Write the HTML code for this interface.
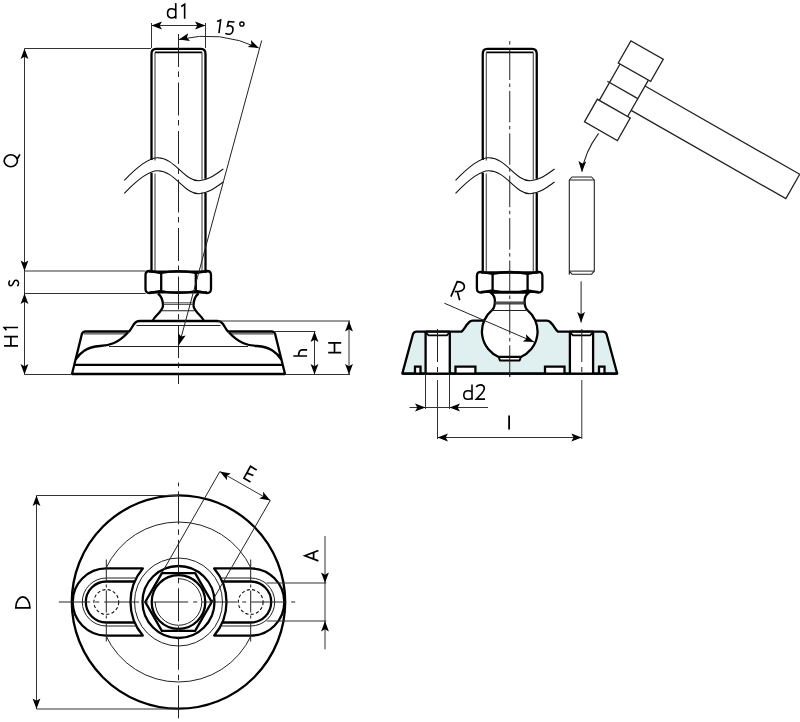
<!DOCTYPE html>
<html><head><meta charset="utf-8"><style>
html,body{margin:0;padding:0;background:#fff;}
svg{display:block;font-family:"Liberation Sans",sans-serif;will-change:transform;}
</style></head><body>
<svg width="800" height="722" viewBox="0 0 800 722">
<rect width="800" height="722" fill="#fff"/>
<path d="M151.5,160 V54 Q151.5,48.8 156,48.8 H201 Q205.5,48.8 205.5,54 V178.8" stroke="#000" stroke-width="2.3" fill="none" stroke-linejoin="round" />
<line x1="155" y1="52.4" x2="202" y2="52.4" stroke="#000" stroke-width="1.6" />
<line x1="155" y1="52.4" x2="155" y2="160.5" stroke="#333" stroke-width="1.0" />
<line x1="202" y1="52.4" x2="202" y2="179.5" stroke="#333" stroke-width="1.0" />
<line x1="151.5" y1="172.8" x2="151.5" y2="271" stroke="#000" stroke-width="2.3" />
<line x1="205.5" y1="193" x2="205.5" y2="271" stroke="#000" stroke-width="2.3" />
<line x1="155" y1="173.5" x2="155" y2="271" stroke="#333" stroke-width="1.0" />
<line x1="202" y1="192.5" x2="202" y2="271" stroke="#333" stroke-width="1.0" />
<path d="M124.3,180.3 C138,166 149,157.5 157.8,157.7 C175,158 184,181 199,180.7 C208,180.5 216,174 223.3,169" stroke="#111" stroke-width="1.1" fill="none" stroke-linejoin="round" />
<path d="M124.3,193.3 C138,179 149,170.5 157.8,170.7 C175,171 184,194 199,193.7 C208,193.5 216,187 223.3,182" stroke="#111" stroke-width="1.1" fill="none" stroke-linejoin="round" />
<path d="M145.5,275 Q145.5,271 149.5,271 L161.2,273 Q178.5,269.2 195.8,273 L207,271 Q211,271 211,275 V289 Q211,293 207,293 L195.8,291 Q178.5,294.8 161.2,291 L149.5,293 Q145.5,293 145.5,289 Z" stroke="#000" stroke-width="2.3" fill="none" stroke-linejoin="round" />
<line x1="161.2" y1="273" x2="161.2" y2="291" stroke="#000" stroke-width="2.3" />
<line x1="195.8" y1="273" x2="195.8" y2="291" stroke="#000" stroke-width="2.3" />
<line x1="149.5" y1="271.6" x2="207" y2="271.6" stroke="#000" stroke-width="2.3" />
<line x1="149.5" y1="292.4" x2="207" y2="292.4" stroke="#000" stroke-width="2.3" />
<path d="M158,293.5 C161,296 163,300 163,305.5 C163,309 160,312 157,315 C155,317 153.5,319 152.5,321" stroke="#000" stroke-width="2.3" fill="none" stroke-linejoin="round" />
<path d="M198.5,293.5 C195.5,296 193.5,300 193.5,305.5 C193.5,309 196.5,312 199.5,315 C201.5,317 203,319 204,321" stroke="#000" stroke-width="2.3" fill="none" stroke-linejoin="round" />
<line x1="163.8" y1="302.8" x2="192.7" y2="302.8" stroke="#333" stroke-width="0.9" />
<line x1="163.8" y1="304.4" x2="192.7" y2="304.4" stroke="#333" stroke-width="0.9" />
<line x1="162" y1="310.75" x2="194.4" y2="310.75" stroke="#222" stroke-width="1.0" />
<path d="M72,374 L82,333.5 Q83,331.5 85,331.5 H129 C131,330 133,324.5 135,323 C136,321.5 138,321 140,321 H217 C219,321 221,321.5 222,323 C224,324.5 226,330 228,331.5 H272 Q274,331.5 275,333.5 L285,374 Z" stroke="#000" stroke-width="2.3" fill="none" stroke-linejoin="round" />
<line x1="74" y1="364.9" x2="283" y2="364.9" stroke="#000" stroke-width="2.3" />
<line x1="83.5" y1="333.9" x2="127" y2="333.9" stroke="#222" stroke-width="1.0" />
<line x1="273.5" y1="333.9" x2="230" y2="333.9" stroke="#222" stroke-width="1.0" />
<line x1="136.5" y1="325.5" x2="220.5" y2="325.5" stroke="#222" stroke-width="1.0" />
<path d="M75.6,359.5 C80,353 86,347 100,346 C110,345.5 118,343 128,332.5" stroke="#000" stroke-width="2.3" fill="none" stroke-linejoin="round" />
<path d="M281.4,359.5 C277,353 271,347 257,346 C247,345.5 239,343 229,332.5" stroke="#000" stroke-width="2.3" fill="none" stroke-linejoin="round" />
<line x1="109" y1="346.5" x2="248" y2="346.5" stroke="#222" stroke-width="1.0" />
<line x1="178.5" y1="34" x2="178.5" y2="384" stroke="#222" stroke-width="1.0" stroke-dasharray="33 4.5 5.5 5.5"/>
<line x1="24.5" y1="48.5" x2="24.5" y2="374.5" stroke="#333" stroke-width="1.0" />
<line x1="24.5" y1="48.5" x2="151" y2="48.5" stroke="#333" stroke-width="1.0" />
<line x1="24.5" y1="271" x2="145.5" y2="271" stroke="#333" stroke-width="1.0" />
<line x1="24.5" y1="293.5" x2="145.5" y2="293.5" stroke="#333" stroke-width="1.0" />
<line x1="24.5" y1="374.5" x2="72" y2="374.5" stroke="#333" stroke-width="1.0" />
<path d="M24.5,48.5 L28.4,59 L24.5,56.69 L20.6,59 Z" fill="#000" stroke="none"/>
<path d="M24.5,271 L20.6,260.5 L24.5,262.81 L28.4,260.5 Z" fill="#000" stroke="none"/>
<path d="M24.5,293.5 L28.4,304 L24.5,301.69 L20.6,304 Z" fill="#000" stroke="none"/>
<path d="M24.5,374.5 L20.6,364 L24.5,366.31 L28.4,364 Z" fill="#000" stroke="none"/>
<line x1="218" y1="321" x2="350" y2="321" stroke="#333" stroke-width="1.0" />
<line x1="274" y1="331.5" x2="315.5" y2="331.5" stroke="#333" stroke-width="1.0" />
<line x1="285" y1="374.5" x2="350" y2="374.5" stroke="#333" stroke-width="1.0" />
<line x1="314.5" y1="331.5" x2="314.5" y2="374.5" stroke="#333" stroke-width="1.0" />
<path d="M314.5,331.5 L318.4,342 L314.5,339.69 L310.6,342 Z" fill="#000" stroke="none"/>
<path d="M314.5,374.5 L310.6,364 L314.5,366.31 L318.4,364 Z" fill="#000" stroke="none"/>
<line x1="349" y1="321" x2="349" y2="374.5" stroke="#333" stroke-width="1.0" />
<path d="M349,321 L352.9,331.5 L349,329.19 L345.1,331.5 Z" fill="#000" stroke="none"/>
<path d="M349,374.5 L345.1,364 L349,366.31 L352.9,364 Z" fill="#000" stroke="none"/>
<line x1="151.5" y1="23" x2="151.5" y2="48" stroke="#333" stroke-width="1.0" />
<line x1="205.5" y1="23" x2="205.5" y2="48" stroke="#333" stroke-width="1.0" />
<line x1="151.5" y1="25.5" x2="205.5" y2="25.5" stroke="#333" stroke-width="1.0" />
<path d="M151.5,25.5 L162,21.6 L159.69,25.5 L162,29.4 Z" fill="#000" stroke="none"/>
<path d="M205.5,25.5 L195,29.4 L197.31,25.5 L195,21.6 Z" fill="#000" stroke="none"/>
<path d="M178.9,39.49 A121.63,121.63 0 0 1 258.8,48.02" stroke="#222" stroke-width="1.0" fill="none" stroke-linejoin="round" />
<path d="M178.9,39.49 L188.23,33.3 L186.87,37.62 L190.01,40.89 Z" fill="#000" stroke="none"/>
<path d="M258.8,48.02 L247.64,47.04 L251.4,44.51 L250.99,40 Z" fill="#000" stroke="none"/>
<line x1="261.7" y1="40.5" x2="179.2" y2="344.5" stroke="#222" stroke-width="1.0" />
<path d="M179.2,344.5 L178.19,333.35 L181.35,336.6 L185.71,335.39 Z" fill="#000" stroke="none"/>
<path d="M482.75,160 V54 Q482.75,48.8 487.25,48.8 H532.25 Q536.75,48.8 536.75,54 V178.8" stroke="#000" stroke-width="2.3" fill="none" stroke-linejoin="round" />
<line x1="486.25" y1="52.4" x2="533.25" y2="52.4" stroke="#000" stroke-width="1.6" />
<line x1="486.25" y1="52.4" x2="486.25" y2="160.5" stroke="#333" stroke-width="1.0" />
<line x1="533.25" y1="52.4" x2="533.25" y2="179.5" stroke="#333" stroke-width="1.0" />
<line x1="482.75" y1="172.8" x2="482.75" y2="271" stroke="#000" stroke-width="2.3" />
<line x1="536.75" y1="193" x2="536.75" y2="271" stroke="#000" stroke-width="2.3" />
<line x1="486.25" y1="173.5" x2="486.25" y2="271" stroke="#333" stroke-width="1.0" />
<line x1="533.25" y1="192.5" x2="533.25" y2="271" stroke="#333" stroke-width="1.0" />
<path d="M455.55,180.3 C469.25,166 480.25,157.5 489.05,157.7 C506.25,158 515.25,181 530.25,180.7 C539.25,180.5 547.25,174 554.55,169" stroke="#111" stroke-width="1.1" fill="none" stroke-linejoin="round" />
<path d="M455.55,193.3 C469.25,179 480.25,170.5 489.05,170.7 C506.25,171 515.25,194 530.25,193.7 C539.25,193.5 547.25,187 554.55,182" stroke="#111" stroke-width="1.1" fill="none" stroke-linejoin="round" />
<path d="M476.9,275.9 Q476.9,271.9 480.9,271.9 L492.6,273.9 Q510.1,270.1 527.6,273.9 L538.4,271.9 Q542.4,271.9 542.4,275.9 V288.5 Q542.4,292.5 538.4,292.5 L527.6,290.5 Q510.1,294.3 492.6,290.5 L480.9,292.5 Q476.9,292.5 476.9,288.5 Z" stroke="#000" stroke-width="2.3" fill="none" stroke-linejoin="round" />
<line x1="492.6" y1="273.9" x2="492.6" y2="290.5" stroke="#000" stroke-width="2.3" />
<line x1="527.6" y1="273.9" x2="527.6" y2="290.5" stroke="#000" stroke-width="2.3" />
<line x1="480.9" y1="272.5" x2="538.4" y2="272.5" stroke="#000" stroke-width="2.3" />
<line x1="480.9" y1="291.9" x2="538.4" y2="291.9" stroke="#000" stroke-width="2.3" />
<line x1="509.75" y1="40" x2="509.75" y2="380" stroke="#222" stroke-width="1.0" stroke-dasharray="31.5 3.5 3.5 3.9" stroke-dashoffset="33.9"/>
<path d="M402.3,373.6 L413,334 Q414,331.7 416.5,331.7 H461.4 C464,330 466,325 468,323.5 C469.5,321.5 471,320.7 473,320.7 H485 L534.5,320.7 H546.5 C548.5,320.7 550,321.5 551.5,323.5 C553.5,325 555.5,330 558.1,331.7 H603 Q605.5,331.7 606.5,334 L617.2,373.6 Z" stroke="#000" stroke-width="2.3" fill="#e0f0f0" stroke-linejoin="round" />
<rect x="425.6" y="331.7" width="24.2" height="41.9" fill="#fff" stroke="none"/>
<line x1="425.6" y1="331.7" x2="425.6" y2="373.6" stroke="#000" stroke-width="2.3" />
<line x1="449.8" y1="331.7" x2="449.8" y2="373.6" stroke="#000" stroke-width="2.3" />
<line x1="425.6" y1="331.7" x2="449.8" y2="331.7" stroke="#000" stroke-width="2.3" />
<path d="M426.4,333.2 L428.6,335.4 H446.8 L449,333.2" stroke="#000" stroke-width="1.8" fill="none" stroke-linejoin="round" />
<rect x="569.9" y="331.7" width="23.2" height="41.9" fill="#fff" stroke="none"/>
<line x1="569.9" y1="331.7" x2="569.9" y2="373.6" stroke="#000" stroke-width="2.3" />
<line x1="593.1" y1="331.7" x2="593.1" y2="373.6" stroke="#000" stroke-width="2.3" />
<line x1="569.9" y1="331.7" x2="593.1" y2="331.7" stroke="#000" stroke-width="2.3" />
<path d="M570.7,333.2 L572.9,335.4 H590.1 L592.3,333.2" stroke="#000" stroke-width="1.8" fill="none" stroke-linejoin="round" />
<path d="M415,373.6 V366.6 H420.5 V373.6" fill="#fff" stroke="#000" stroke-width="2.3"/>
<path d="M455.5,373.6 V366.6 H475.4 V373.6" fill="#fff" stroke="#000" stroke-width="2.3"/>
<path d="M545,373.6 V366.6 H564.5 V373.6" fill="#fff" stroke="#000" stroke-width="2.3"/>
<path d="M599,373.6 V366.6 H604.5 V373.6" fill="#fff" stroke="#000" stroke-width="2.3"/>
<line x1="402.3" y1="373.6" x2="617.2" y2="373.6" stroke="#000" stroke-width="2.3" />
<path d="M490.6,292.5 C494,295 495,298.5 494.9,301.5 C494.8,304.5 494.7,307.9 492.35,309.8 A27.8,27.8 0 0 0 498.7,357 H520.8 A27.8,27.8 0 0 0 527.15,309.8 C524.8,307.9 524.7,304.5 524.6,301.5 C524.5,298.5 525.5,295 528.9,292.5 Z" fill="#fff" stroke="#000" stroke-width="2.3" stroke-linejoin="round"/>
<path d="M498.7,357 L499.9,360.5 H519.6 L520.8,357 Z" fill="#fff" stroke="#000" stroke-width="2.0" stroke-linejoin="round"/>
<line x1="494.5" y1="302.2" x2="525" y2="302.2" stroke="#333" stroke-width="0.9" />
<line x1="494.5" y1="303.8" x2="525" y2="303.8" stroke="#333" stroke-width="0.9" />
<line x1="491" y1="310.5" x2="528.5" y2="310.5" stroke="#222" stroke-width="1.0" />
<line x1="509.75" y1="292" x2="509.75" y2="380" stroke="#222" stroke-width="1.0" stroke-dasharray="31.5 3.5 3.5 3.9" stroke-dashoffset="31.5"/>
<line x1="494.5" y1="302.2" x2="525" y2="302.2" stroke="#333" stroke-width="0.9" />
<line x1="494.5" y1="303.8" x2="525" y2="303.8" stroke="#333" stroke-width="0.9" />
<line x1="491" y1="310.5" x2="528.5" y2="310.5" stroke="#222" stroke-width="1.0" />
<line x1="437.5" y1="329" x2="437.5" y2="374" stroke="#222" stroke-width="1.0" stroke-dasharray="33 5 5 20"/>
<line x1="581.8" y1="329" x2="581.8" y2="374" stroke="#222" stroke-width="1.0" stroke-dasharray="33 5 5 20"/>
<line x1="444.3" y1="303.2" x2="534" y2="342" stroke="#222" stroke-width="1.0" />
<path d="M534,342 L522.81,341.41 L526.48,338.75 L525.91,334.25 Z" fill="#000" stroke="none"/>
<line x1="425.5" y1="374" x2="425.5" y2="409" stroke="#333" stroke-width="1.0" />
<line x1="449.5" y1="374" x2="449.5" y2="409" stroke="#333" stroke-width="1.0" />
<line x1="409.5" y1="407.5" x2="488" y2="407.5" stroke="#333" stroke-width="1.0" />
<path d="M425.5,407.5 L415,411.4 L417.31,407.5 L415,403.6 Z" fill="#000" stroke="none"/>
<path d="M449.5,407.5 L460,403.6 L457.69,407.5 L460,411.4 Z" fill="#000" stroke="none"/>
<line x1="437.5" y1="380" x2="437.5" y2="439" stroke="#333" stroke-width="1.0" />
<line x1="581.8" y1="380" x2="581.8" y2="439" stroke="#333" stroke-width="1.0" />
<line x1="437.5" y1="437.5" x2="581.8" y2="437.5" stroke="#333" stroke-width="1.0" />
<path d="M437.5,437.5 L448,433.6 L445.69,437.5 L448,441.4 Z" fill="#000" stroke="none"/>
<path d="M581.8,437.5 L571.3,441.4 L573.61,437.5 L571.3,433.6 Z" fill="#000" stroke="none"/>
<path d="M569.3,274.2 V180 L572,177 H591.6 L594.3,180 V271.1 L591.6,274.2 H572 L569.3,271.1 Z" stroke="#222" stroke-width="1.1" fill="none" stroke-linejoin="round" />
<line x1="569.3" y1="180" x2="594.3" y2="180" stroke="#222" stroke-width="1.0" />
<line x1="569.3" y1="271.1" x2="594.3" y2="271.1" stroke="#222" stroke-width="1.0" />
<line x1="581.1" y1="281.3" x2="581.1" y2="322.5" stroke="#222" stroke-width="1.0" />
<path d="M581.1,322.5 L577.2,312 L581.1,314.31 L585,312 Z" fill="#000" stroke="none"/>
<path d="M598.6,133.4 C590,145 584,157 582,171.8" stroke="#222" stroke-width="1.1" fill="none" stroke-linejoin="round" />
<path d="M581.8,171.8 L578.43,161.12 L582.21,163.62 L586.22,161.51 Z" fill="#000" stroke="none"/>
<g transform="translate(624 90.4) rotate(29.7)" fill="#fff" stroke="#222" stroke-width="1.3" stroke-linejoin="miter">
<path d="M16.1,-14.2 H194.2 V13.8 H16.1"/>
<path d="M-16.5,-21 V20.9 M16.1,-21 V20.9" fill="none"/>
<path d="M-19,0.3 H16.1" fill="none"/>
<rect x="-18.6" y="-46.5" width="37.3" height="25.5"/>
<rect x="-18.8" y="20.9" width="37.9" height="25.9"/>
</g>
<circle cx="178.5" cy="602" r="106.7" stroke="#000" stroke-width="2.3" fill="none" />
<path d="M105.9,568.4 A80,80 0 0 1 251.1,568.4" stroke="#222" stroke-width="1.0" fill="none" stroke-linejoin="round" />
<path d="M105.9,635.6 A80,80 0 0 0 251.1,635.6" stroke="#222" stroke-width="1.0" fill="none" stroke-linejoin="round" />
<path d="M214.19,568.4 H250.7 A33.6,33.6 0 0 1 250.7,635.6 H214.19 A52.0,52.0 0 0 0 214.19,568.4 Z" stroke="#000" stroke-width="2.3" fill="none" stroke-linejoin="round" />
<path d="M220.63,578 H250.7 A24,24 0 0 1 250.7,626 H220.63" stroke="#222" stroke-width="1.0" fill="none" stroke-linejoin="round" />
<path d="M222.29,581.5 H250.7 A20.5,20.5 0 0 1 250.7,622.5 H222.29" stroke="#000" stroke-width="2.3" fill="none" stroke-linejoin="round" />
<circle cx="250.7" cy="602" r="12.4" stroke="#111" stroke-width="1.1" fill="none" stroke-dasharray="3.2 2.2"/>
<line x1="250.7" y1="559.5" x2="250.7" y2="641.5" stroke="#222" stroke-width="1.0" stroke-dasharray="22 3 3 3"/>
<path d="M142.81,568.4 H106.3 A33.6,33.6 0 0 0 106.3,635.6 H142.81 A52.0,52.0 0 0 1 142.81,568.4 Z" stroke="#000" stroke-width="2.3" fill="none" stroke-linejoin="round" />
<path d="M136.37,578 H106.3 A24,24 0 0 0 106.3,626 H136.37" stroke="#222" stroke-width="1.0" fill="none" stroke-linejoin="round" />
<path d="M134.71,581.5 H106.3 A20.5,20.5 0 0 0 106.3,622.5 H134.71" stroke="#000" stroke-width="2.3" fill="none" stroke-linejoin="round" />
<circle cx="106.3" cy="602" r="12.4" stroke="#111" stroke-width="1.1" fill="none" stroke-dasharray="3.2 2.2"/>
<line x1="106.3" y1="559.5" x2="106.3" y2="641.5" stroke="#222" stroke-width="1.0" stroke-dasharray="22 3 3 3"/>
<circle cx="178.5" cy="602" r="44" stroke="#222" stroke-width="1.0" fill="none" />
<circle cx="178.5" cy="602" r="36" stroke="#000" stroke-width="2.3" fill="none" />
<path d="M211.76,602 L195.13,630.8 L161.87,630.8 L145.24,602 L161.87,573.2 L195.13,573.2 Z" stroke="#000" stroke-width="2.3" fill="none" stroke-linejoin="round" />
<circle cx="178.5" cy="602" r="26.8" stroke="#000" stroke-width="2.3" fill="none" />
<path d="M178.5,578.7 A23.3,23.3 0 1 1 155.2,602" stroke="#222" stroke-width="1.0" fill="none" stroke-linejoin="round" />
<line x1="58.9" y1="602" x2="298.5" y2="602" stroke="#222" stroke-width="1.0" stroke-dasharray="35 5 4 5" stroke-dashoffset="3.7"/>
<line x1="178.5" y1="482.6" x2="178.5" y2="722" stroke="#222" stroke-width="1.0" stroke-dasharray="33 5 5.5 5" stroke-dashoffset="39.8"/>
<line x1="36.5" y1="495.5" x2="178.5" y2="495.5" stroke="#333" stroke-width="1.0" />
<line x1="36.5" y1="709" x2="178.5" y2="709" stroke="#333" stroke-width="1.0" />
<line x1="36.5" y1="495.5" x2="36.5" y2="709" stroke="#333" stroke-width="1.0" />
<path d="M36.5,495.5 L40.4,506 L36.5,503.69 L32.6,506 Z" fill="#000" stroke="none"/>
<path d="M36.5,709 L32.6,698.5 L36.5,700.81 L40.4,698.5 Z" fill="#000" stroke="none"/>
<line x1="266.6" y1="583" x2="326.3" y2="583" stroke="#333" stroke-width="1.0" />
<line x1="266.6" y1="621" x2="326.3" y2="621" stroke="#333" stroke-width="1.0" />
<line x1="325" y1="536" x2="325" y2="649.3" stroke="#333" stroke-width="1.0" />
<path d="M325,583 L321.1,572.5 L325,574.81 L328.9,572.5 Z" fill="#000" stroke="none"/>
<path d="M325,621 L328.9,631.5 L325,629.19 L321.1,631.5 Z" fill="#000" stroke="none"/>
<line x1="219.8" y1="471.6" x2="161.8" y2="573.1" stroke="#222" stroke-width="1.0" />
<line x1="270.3" y1="500.4" x2="211.8" y2="601.8" stroke="#222" stroke-width="1.0" />
<line x1="219.8" y1="471.6" x2="270.3" y2="500.4" stroke="#333" stroke-width="1.0" />
<path d="M219.8,471.6 L230.85,473.41 L226.91,475.66 L226.99,480.19 Z" fill="#000" stroke="none"/>
<path d="M270.3,500.4 L259.25,498.59 L263.19,496.34 L263.11,491.81 Z" fill="#000" stroke="none"/>
<path d="M175.76,3.1 V18.7" fill="none" stroke="#000" stroke-width="1.6" stroke-linecap="butt" stroke-linejoin="miter"/>
<path d="M175.76,10.6 C174.8,9.3 173.3,8.7 171.6,8.7 C169.1,8.7 167.55,10.8 167.55,13.35 C167.55,16 169.1,17.95 171.6,17.95 C173.3,17.95 174.8,17.2 175.76,15.9" fill="none" stroke="#000" stroke-width="1.6" stroke-linecap="butt" stroke-linejoin="miter"/>
<path d="M181.2,6.5 L184.64,4.3 V18.7" fill="none" stroke="#000" stroke-width="1.6" stroke-linecap="butt" stroke-linejoin="miter"/>
<path d="M217.04,21.5 L220.65,20.04 L218.95,33.2" fill="none" stroke="#000" stroke-width="1.6" stroke-linecap="butt" stroke-linejoin="miter"/>
<path d="M234.5,21.95 L228.5,21.5 L227.45,26.2 C229.2,25.3 233.2,25.6 233,29.6 C232.8,32.8 230.6,34.3 229,34.3 C227.5,34.3 226.2,33.9 225.3,33.4" fill="none" stroke="#000" stroke-width="1.6" stroke-linecap="butt" stroke-linejoin="miter"/>
<circle cx="241.9" cy="24.07" r="2.1" fill="none" stroke="#000" stroke-width="1.4"/>
<ellipse cx="10.8" cy="160.75" rx="6.65" ry="6.0" fill="none" stroke="#000" stroke-width="1.7"/>
<path d="M17.2,159.2 L19.94,154.3" fill="none" stroke="#000" stroke-width="1.7" stroke-linecap="butt" stroke-linejoin="miter"/>
<path d="M17.3,286.2 C18.7,285 18.9,282.6 17.8,281.1 C16.8,279.9 14.8,280 13.9,281.8 L12.8,284.2 C12,285.9 10.2,286.3 9.3,285.1 C8.6,284.2 8.7,281.8 10,280.5" fill="none" stroke="#000" stroke-width="1.6" stroke-linecap="butt" stroke-linejoin="miter"/>
<path d="M4.1,336.6 H18 M4.1,345.9 H18 M10.85,336.6 V345.9" fill="none" stroke="#000" stroke-width="1.7" stroke-linecap="butt" stroke-linejoin="miter"/>
<path d="M6.4,330.2 L4.2,327.5 H18" fill="none" stroke="#000" stroke-width="1.7" stroke-linecap="butt" stroke-linejoin="miter"/>
<path d="M293.3,356 H307.1 M298.6,356 C298.6,352 299.6,349.9 302.2,349.9 H307.1" fill="none" stroke="#000" stroke-width="1.7" stroke-linecap="butt" stroke-linejoin="miter"/>
<path d="M328.2,342.9 H341.2 M328.2,352.6 H341.2 M334.5,342.9 V352.6" fill="none" stroke="#000" stroke-width="1.7" stroke-linecap="butt" stroke-linejoin="miter"/>
<path d="M450.9,296.6 L457.2,281.6 C460,281.8 464.5,283 464.4,286.9 C464.3,290 461,291.6 454.7,291.6 M457.4,291.8 L459.7,300.3" fill="none" stroke="#000" stroke-width="1.7" stroke-linecap="butt" stroke-linejoin="miter"/>
<path d="M472,384.5 V399.8" fill="none" stroke="#000" stroke-width="1.6" stroke-linecap="butt" stroke-linejoin="miter"/>
<path d="M472,391.9 C471.1,391.2 469.7,390.8 468,390.8 C465.4,390.8 463.8,392.6 463.8,395.2 C463.8,397.8 465.4,399.3 468,399.3 C469.7,399.3 471.1,398.8 472,398" fill="none" stroke="#000" stroke-width="1.6" stroke-linecap="butt" stroke-linejoin="miter"/>
<path d="M476.2,387 C477,385.6 478.6,384.9 480.3,384.9 C482.8,384.9 484.3,386.6 484.3,388.6 C484.3,390.6 483,392.2 481,394.2 L476.3,399.1 H485" fill="none" stroke="#000" stroke-width="1.6" stroke-linecap="butt" stroke-linejoin="miter"/>
<path d="M509.1,415.6 V429.6" fill="none" stroke="#000" stroke-width="1.8" stroke-linecap="butt" stroke-linejoin="miter"/>
<path d="M15.8,607.9 H29.9 C29.9,601 26.2,596.9 22.85,596.9 C19.5,596.9 15.8,601 15.8,607.9 Z" fill="none" stroke="#000" stroke-width="1.7" stroke-linecap="butt" stroke-linejoin="miter"/>
<path d="M318.4,550.5 L304.9,555.7 L318.4,560.9 M313.6,552.3 V559.1" fill="none" stroke="#000" stroke-width="1.7" stroke-linecap="butt" stroke-linejoin="miter"/>
<path d="M256.65,470.06 L250.5,466.3 L243.97,478.15 L250.5,481.9 M247.25,473.1 L253.4,475.5" fill="none" stroke="#000" stroke-width="1.7" stroke-linecap="butt" stroke-linejoin="miter"/>
</svg></body></html>
